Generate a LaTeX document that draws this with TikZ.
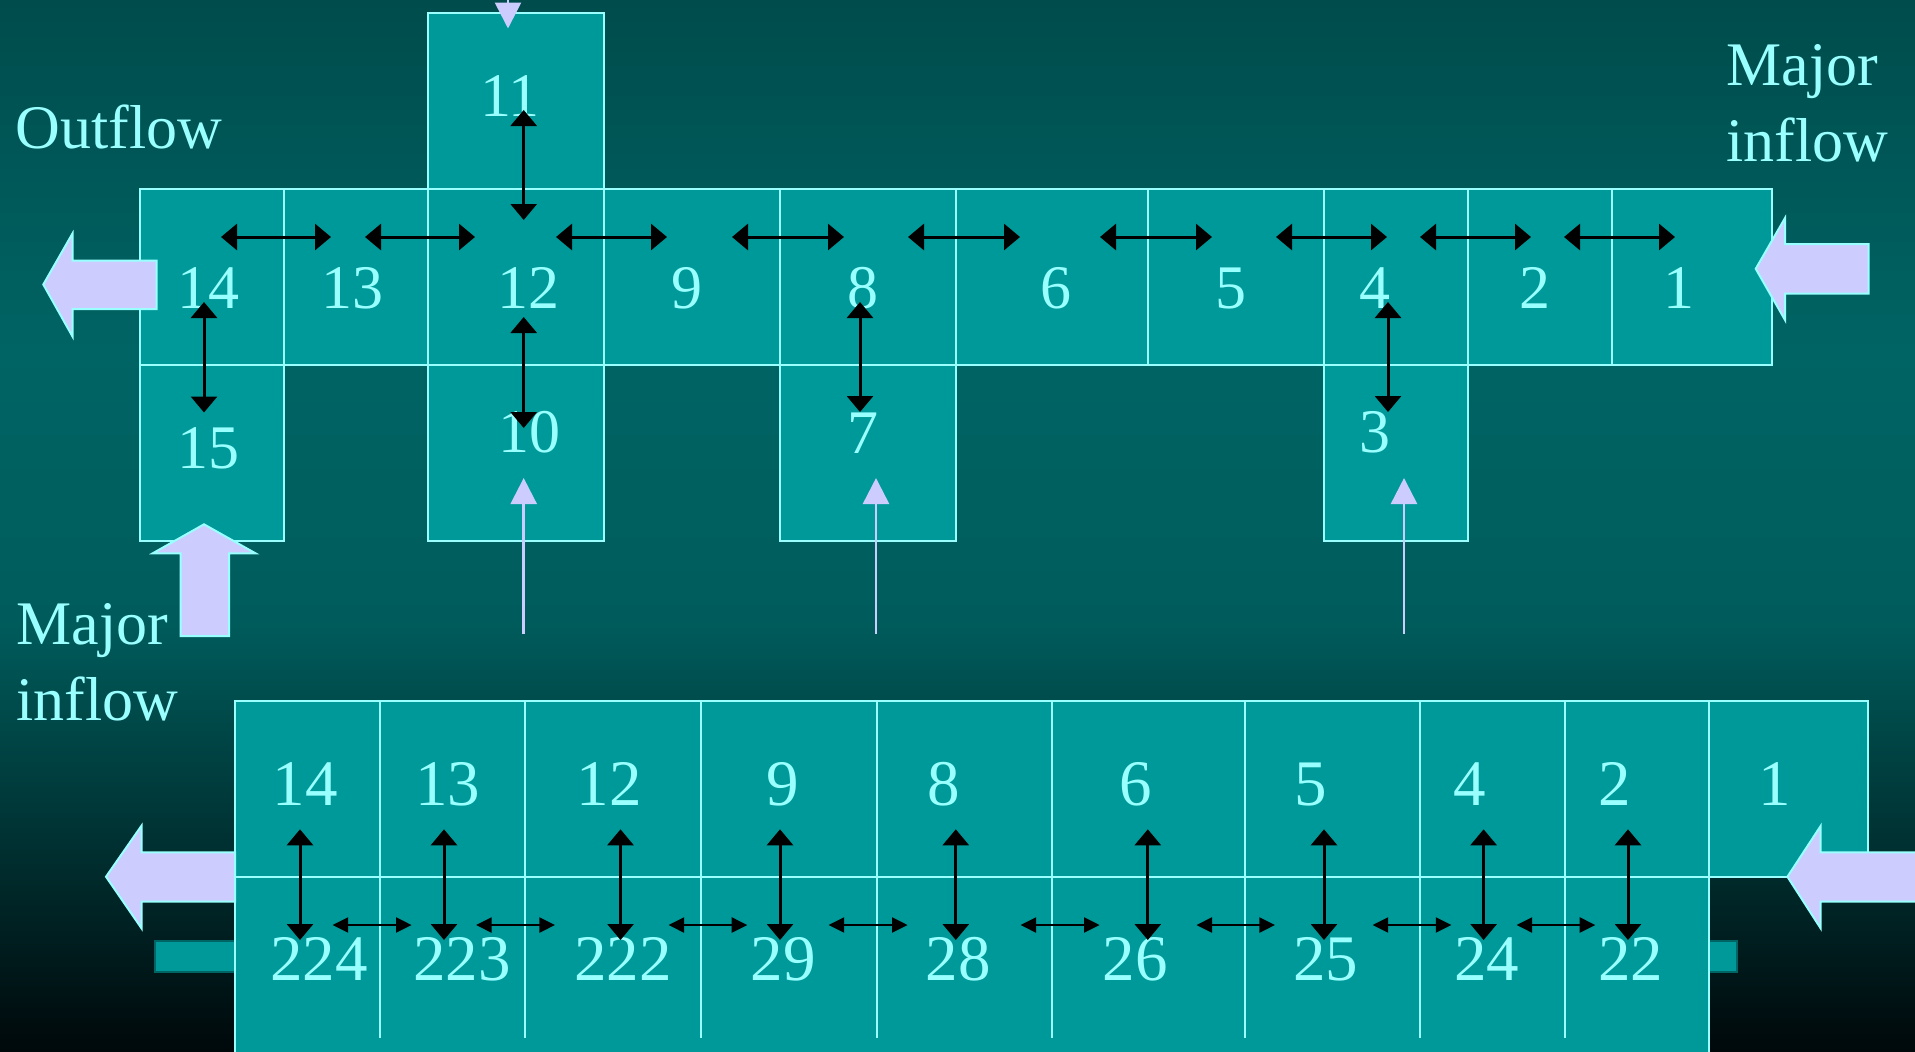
\documentclass[tikz,border=0pt]{standalone}
\usepackage{fontspec}
\setmainfont{Liberation Serif}
\usetikzlibrary{arrows.meta}
\definecolor{bgA}{RGB}{0,76,76}
\definecolor{bgB}{RGB}{0,100,100}
\definecolor{bgC}{RGB}{0,92,92}
\definecolor{bgD}{RGB}{0,8,10}
\definecolor{cellfill}{RGB}{0,153,153}
\definecolor{edgec}{RGB}{153,255,255}
\definecolor{txtc}{RGB}{153,255,255}
\definecolor{lav}{RGB}{204,204,255}
\definecolor{bardark}{RGB}{0,100,100}
\tikzset{
 cellbox/.style={draw=edgec, fill=cellfill, line width=1.25pt, inner sep=0pt, outer sep=0pt, rectangle},
 barbox/.style={draw=bardark, fill=cellfill, line width=1.2pt, inner sep=0pt, outer sep=0pt, rectangle},
 divider/.style={draw=edgec, line width=1.25pt},
 lbl/.style={text=txtc, font=\fontsize{31}{37}\selectfont, inner sep=0pt, anchor=base},
 lblb/.style={lbl, font=\fontsize{32.5}{39}\selectfont},
 side/.style={text=txtc, font=\fontsize{31}{37}\selectfont, inner sep=0pt, anchor=base west},
 blk/.style={draw=black, line width=1.5pt, {Triangle[length=8pt,width=13pt]}-{Triangle[length=8pt,width=13pt]}},
 blks/.style={draw=black, line width=1.1pt, {Triangle[length=7.8pt,width=7.5pt]}-{Triangle[length=7.8pt,width=7.5pt]}},
 thinarr/.style={draw=lav, line width=1.3pt, -{Triangle[length=13pt,width=13pt]}},
 block/.style={fill=lav, draw=edgec, line width=1pt, line join=miter},
}
\newcommand\mkcell[5]{\node[cellbox, minimum width={(#4-#2)*0.5pt}, minimum height={(#5-#3)*0.5pt}] (#1) at ({(#2+#4)/2},{(#3+#5)/2}) {};}
\begin{document}
\begin{tikzpicture}[x=0.5pt,y=-0.5pt]
\useasboundingbox (0,0) rectangle (1915,1051);
\clip (0,0) rectangle (1915,1051);
% background
\shade[top color=bgA, bottom color=bgB] (0,0) rectangle (1915,351);
\shade[top color=bgB, bottom color=bgC] (0,350) rectangle (1915,621);
\shade[top color=bgC, bottom color=bgD] (0,620) rectangle (1915,1051);

% ---------- upper diagram ----------
\mkcell{t14}{140}{189}{284}{365}
\mkcell{t13}{284}{189}{428}{365}
\mkcell{t12}{428}{189}{604}{365}
\mkcell{t9}{604}{189}{780}{365}
\mkcell{t8}{780}{189}{956}{365}
\mkcell{t6}{956}{189}{1148}{365}
\mkcell{t5}{1148}{189}{1324}{365}
\mkcell{t4}{1324}{189}{1468}{365}
\mkcell{t2}{1468}{189}{1612}{365}
\mkcell{t1}{1612}{189}{1772}{365}
\mkcell{t11}{428}{13}{604}{189}
\mkcell{t15}{140}{365}{284}{541}
\mkcell{t10}{428}{365}{604}{541}
\mkcell{t7}{780}{365}{956}{541}
\mkcell{t3}{1324}{365}{1468}{541}

\foreach \n/\x in {14/208.7,13/352.7,12/528.6,9/686.6,8/862.8,6/1055.5,5/1231,4/1374.8,2/1534.7,1/1679}
  \node[lbl] (lt\n) at (\x,308) {\n};
\node[lbl] (lt11) at (510,116) {11};
\node[lbl] (lt15) at (208,468) {15};
\node[lbl] (lt10) at (529.5,452) {10};
\node[lbl] (lt7) at (862.8,453) {7};
\node[lbl] (lt3) at (1374.5,452) {3};

\node[side] (outflow) at (15,148) {Outflow};
\node[side] (inflowA) at (1726,85) {\vtop{\baselineskip=38.2pt\hbox{Major}\hbox{inflow}}};
\node[side] (inflowB) at (16,644.3) {\vtop{\baselineskip=38.2pt\hbox{Major}\hbox{inflow}}};

% horizontal exchange arrows, top row
\foreach \i/\a/\b in {1/221/331,2/365/475,3/556/667,4/732/844,5/908/1020,6/1100/1212,7/1276/1387,8/1420/1531,9/1564/1675}{
  \coordinate (ha\i) at (\a,237);
  \coordinate (hb\i) at (\b,237);
  \draw[blk] (ha\i) -- (hb\i);
}
% vertical exchange arrows, top diagram
\foreach \i/\x/\a/\b in {1/523.7/110/220,2/523.7/317/428,3/204/302/412.5,4/860/302/412,5/1388/302/412}{
  \coordinate (va\i) at (\x,\a);
  \coordinate (vb\i) at (\x,\b);
  \draw[blk] (va\i) -- (vb\i);
}
% thin lavender inflow arrows
\foreach \i/\x in {1/523.7,2/876,3/1404}{
  \coordinate (la\i) at (\x,634);
  \coordinate (lb\i) at (\x,478);
  \draw[thinarr] (la\i) -- (lb\i);
}
\coordinate (tka) at (508,-40);
\coordinate (tkb) at (508,28.5);
\draw[thinarr] (tka) -- (tkb);

% block arrows, top diagram
\draw[block] (43.3,284.5) -- (72.5,233.5) -- (72.5,260.5) -- (156.5,260.5) -- (156.5,309) -- (72.5,309) -- (72.5,336.5) -- cycle;
\draw[block] (1755.7,268.8) -- (1785,218) -- (1785,244) -- (1868.7,244) -- (1868.7,293.6) -- (1785,293.6) -- (1785,320) -- cycle;
\draw[block] (204,524.3) -- (255.5,553.3) -- (229,553.3) -- (229,636) -- (180.7,636) -- (180.7,553.3) -- (152.7,553.3) -- cycle;

% ---------- lower diagram ----------
\node[barbox, minimum width={(1737-155)*0.5pt}, minimum height={(972-941)*0.5pt}] (bar) at ({(155+1737)/2},{(941+972)/2}) {};
\mkcell{blow}{235}{877}{1709}{1090}
\foreach \x in {380,525,701,877,1052,1245,1420,1565}
  \draw[divider] (\x,877) -- (\x,1038);
\mkcell{b14}{235}{701}{380}{877}
\mkcell{b13}{380}{701}{525}{877}
\mkcell{b12}{525}{701}{701}{877}
\mkcell{b9}{701}{701}{877}{877}
\mkcell{b8}{877}{701}{1052}{877}
\mkcell{b6}{1052}{701}{1245}{877}
\mkcell{b5}{1245}{701}{1420}{877}
\mkcell{b4}{1420}{701}{1565}{877}
\mkcell{b2}{1565}{701}{1709}{877}
\mkcell{b1}{1709}{701}{1868}{877}

\foreach \n/\x in {14/305,13/447.5,12/609.4,9/782.6,8/943.5,6/1135.6,5/1310.8,4/1470,2/1615,1/1775}
  \node[lblb] (lb\n) at (\x,805) {\n};
\foreach \n/\x in {224/319,223/462,222/623,29/783,28/958,26/1135,25/1325.5,24/1486.5,22/1630.8}
  \node[lblb] (lw\n) at (\x,980.7) {\n};

\foreach \i/\x in {1/300,2/444,3/620.5,4/780,5/955.8,6/1147.8,7/1324,8/1483.6,9/1628}{
  \coordinate (bva\i) at (\x,829.3);
  \coordinate (bvb\i) at (\x,940);
  \draw[blk] (bva\i) -- (bvb\i);
}
\foreach \i/\a/\b in {1/332.6/411.6,2/476/555,3/668.5/747.3,4/828.6/907.6,5/1020.5/1099.6,6/1196.4/1275,7/1372.6/1451.4,8/1516.5/1595.3}{
  \coordinate (bha\i) at (\a,925);
  \coordinate (bhb\i) at (\b,925);
  \draw[blks] (bha\i) -- (bhb\i);
}

\draw[block] (106,876.7) -- (141.5,825.7) -- (141.5,852.3) -- (235,852.3) -- (235,901.7) -- (141.5,901.7) -- (141.5,928.3) -- cycle;
\draw[block] (1787.4,876.7) -- (1820.6,826) -- (1820.6,852.3) -- (1935,852.3) -- (1935,901.7) -- (1820.6,901.7) -- (1820.6,928.3) -- cycle;
\end{tikzpicture}
\end{document}
